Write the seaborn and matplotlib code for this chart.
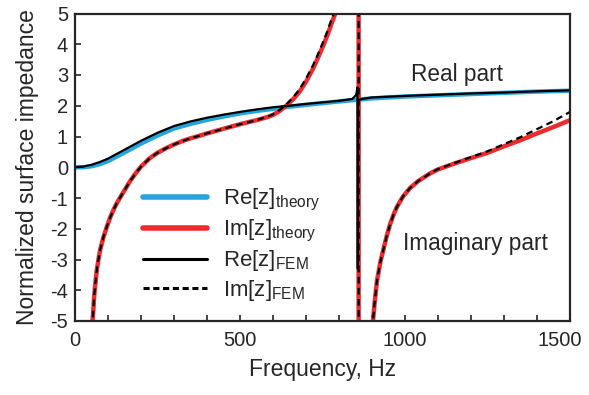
import matplotlib
matplotlib.use("Agg")
import matplotlib.pyplot as plt
import seaborn as sns
import pandas as pd
from matplotlib.lines import Line2D
from matplotlib.transforms import ScaledTranslation

# ---- data ----
re_theory_f = [0, 25, 50, 75, 100, 150, 200, 250, 300, 350, 400, 450, 500, 550, 600, 650, 700,
               800, 900, 1000, 1100, 1200, 1300, 1400, 1500]
re_theory_z = [0.0, 0.0, 0.03, 0.1, 0.2, 0.48, 0.77, 1.03, 1.26, 1.41, 1.54, 1.65, 1.75, 1.83,
               1.9, 1.97, 2.03, 2.14, 2.24, 2.3, 2.34, 2.38, 2.42, 2.46, 2.49]

re_fem_f = [0, 25, 50, 75, 100, 150, 200, 250, 300, 350, 400, 450, 500, 550, 600, 650, 700,
            800, 840, 852, 856, 857, 858, 870, 900, 1000, 1100, 1200, 1300, 1400, 1500]
re_fem_z = [0.0, 0.02, 0.08, 0.17, 0.28, 0.57, 0.86, 1.12, 1.34, 1.49, 1.61, 1.71, 1.8, 1.88,
            1.95, 2.0, 2.06, 2.16, 2.22, 2.35, 2.6, -3.3, 2.18, 2.22, 2.27, 2.32, 2.36, 2.4,
            2.43, 2.47, 2.5]

im_theory_f = [50, 53, 55, 58, 62, 66, 71, 76, 86, 96, 106, 116, 126, 136, 150, 167, 185, 200,
               227, 250, 278, 300, 325, 350, 379, 400, 450, 500, 550, 582, 600, 620, 640, 660,
               680, 700, 722, 740, 752, 765, 775, 788, 800, 820, 840, 850, 855, 858, 859, 860,
               862, 870, 880, 890, 903, 908, 915, 925, 934, 945, 955, 965, 975, 994, 1015,
               1040, 1076, 1100, 1150, 1200, 1250, 1300, 1350, 1400, 1450, 1500]
im_theory_z = [-5.6, -5.0, -4.75, -4.2, -3.75, -3.35, -3.0, -2.7, -2.28, -1.95, -1.65, -1.4,
               -1.18, -1.0, -0.75, -0.45, -0.18, 0.02, 0.3, 0.47, 0.63, 0.74, 0.85, 0.94, 1.03,
               1.1, 1.25, 1.4, 1.53, 1.63, 1.7, 1.83, 2.0, 2.2, 2.45, 2.78, 3.22, 3.65, 3.95,
               4.3, 4.6, 4.98, 5.4, 6.3, 8.5, 12, 20, 60, 200, -200, -60, -15, -9, -6.5, -5.0,
               -4.4, -3.7, -3.1, -2.7, -2.22, -1.85, -1.55, -1.3, -0.95, -0.68, -0.45, -0.2,
               -0.07, 0.12, 0.3, 0.47, 0.68, 0.88, 1.1, 1.31, 1.53]

im_fem_f = im_theory_f
im_fem_z = [-5.6, -5.0, -4.75, -4.2, -3.75, -3.35, -3.0, -2.7, -2.28, -1.95, -1.65, -1.4,
            -1.18, -1.0, -0.75, -0.45, -0.18, 0.02, 0.3, 0.47, 0.63, 0.74, 0.85, 0.94, 1.03,
            1.1, 1.25, 1.4, 1.53, 1.64, 1.72, 1.86, 2.04, 2.26, 2.53, 2.88, 3.33, 3.77, 4.08,
            4.43, 4.74, 5.1, 5.5, 6.4, 8.6, 12, 20, 60, 200, -200, -60, -15, -9, -6.5, -5.0,
            -4.4, -3.7, -3.1, -2.7, -2.22, -1.85, -1.55, -1.3, -0.95, -0.68, -0.45, -0.2,
            -0.06, 0.14, 0.33, 0.52, 0.75, 0.98, 1.24, 1.5, 1.8]

labels = [r"Re[z]$_{\mathrm{theory}}$", r"Im[z]$_{\mathrm{theory}}$",
          r"Re[z]$_{\mathrm{FEM}}$", r"Im[z]$_{\mathrm{FEM}}$"]
x_ticks = [0, 500, 1000, 1500]
y_ticks = [-5, -4, -3, -2, -1, 0, 1, 2, 3, 4, 5]

BLUE = "#25a5df"
RED = "#ee2a2c"

sns.set_style("ticks")
plt.rcParams["font.family"] = ["Liberation Sans", "DejaVu Sans"]
plt.rcParams["mathtext.fontset"] = "custom"
plt.rcParams["mathtext.rm"] = "Liberation Sans"
plt.rcParams["mathtext.it"] = "Liberation Sans:italic"

fig = plt.figure(figsize=(5.89, 3.95), dpi=100)
ax = fig.add_axes([75 / 589, (395 - 321) / 395, 495 / 589, 307.5 / 395])

df_rt = pd.DataFrame({"f": re_theory_f, "z": re_theory_z})
df_it = pd.DataFrame({"f": im_theory_f, "z": im_theory_z})
df_rf = pd.DataFrame({"f": re_fem_f, "z": re_fem_z})
df_if = pd.DataFrame({"f": im_fem_f, "z": im_fem_z})

sns.lineplot(data=df_rt, x="f", y="z", ax=ax, color=BLUE, lw=3.2, sort=False, estimator=None)
sns.lineplot(data=df_it, x="f", y="z", ax=ax, color=RED, lw=3.2, sort=False, estimator=None)
sns.lineplot(data=df_rf, x="f", y="z", ax=ax, color="black", lw=1.6, sort=False, estimator=None)
sns.lineplot(data=df_if, x="f", y="z", ax=ax, color="black", lw=1.6, sort=False, estimator=None,
             linestyle=(0, (3, 2)))

ax.set_xlim(0, 1500)
ax.set_ylim(-5, 5)
ax.set_xticks(x_ticks)
ax.set_xticklabels([str(v) for v in x_ticks])
ax.set_xticks(range(0, 1501, 100), minor=True)
ax.set_yticks(y_ticks)
ax.set_yticklabels([str(v) for v in y_ticks])
ax.tick_params(axis="both", which="both", direction="in", length=4, width=1.2,
               labelsize=14.5, top=False, right=False)
ax.tick_params(axis="x", pad=7)
ax.tick_params(axis="y", pad=5)
for s in ax.spines.values():
    s.set_linewidth(1.6)
    s.set_visible(True)

# last x label sits a little left of its tick, as in the reference
last = ax.get_xticklabels()[-1]
last.set_transform(last.get_transform() + ScaledTranslation(-0.10, 0, fig.dpi_scale_trans))

ax.set_xlabel("Frequency, Hz", fontsize=16.5, labelpad=6)
ax.set_ylabel("Normalized surface impedance", fontsize=16.5, labelpad=8)

ax.text(1158, 3.0, "Real part", fontsize=16.3, ha="center", va="center")
ax.text(1212, -2.47, "Imaginary part", fontsize=16.3, ha="center", va="center")

handles = [Line2D([], [], color=BLUE, lw=4),
           Line2D([], [], color=RED, lw=4),
           Line2D([], [], color="black", lw=2.2),
           Line2D([], [], color="black", lw=2.2, linestyle=(0, (2, 1.2)))]
ax.legend(handles, labels, loc="upper left", bbox_to_anchor=(0.137, 0.435),
          frameon=False, fontsize=16, handlelength=2.9, handletextpad=0.7,
          labelspacing=0.2, borderpad=0, borderaxespad=0)

fig.savefig("out.png", dpi=100)
